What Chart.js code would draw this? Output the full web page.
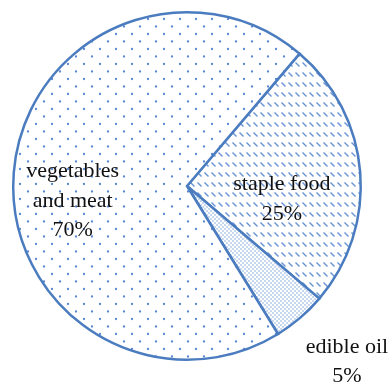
<!DOCTYPE html>
<html>
<head>
<meta charset="utf-8">
<script src="https://cdn.jsdelivr.net/npm/chart.js@4.4.0/dist/chart.umd.min.js"></script>
<style>
  html, body { margin: 0; padding: 0; background: #fff; }
  canvas { display: block; }
</style>
</head>
<body>
<canvas id="c" width="392" height="387"></canvas>
<script>
// data
const categories = ['staple food', 'edible oil', 'vegetables and meat'];
const labelLines = [['staple food', '25%'], ['edible oil', '5%'], ['vegetables', 'and meat', '70%']];
const shares = [25, 5, 70];
// label placement: angle (deg, canvas) and distance as fraction of radius
const labelAngle = [7.2, 47.5, 173.1];
const labelDist = [0.55, 1.362, 0.663];

const BLUE = '#4a7cbf';

function makePattern(w, h, draw) {
  const c = document.createElement('canvas');
  c.width = w; c.height = h;
  const g = c.getContext('2d');
  g.fillStyle = '#fff';
  g.fillRect(0, 0, w, h);
  draw(g);
  return g.createPattern(c, 'repeat');
}

const ctx = document.getElementById('c').getContext('2d');

const dots = makePattern(16, 15, g => {
  g.fillStyle = 'rgba(80,130,205,0.95)';
  g.beginPath(); g.arc(4, 4, 1.15, 0, Math.PI * 2); g.fill();
  g.beginPath(); g.arc(12, 11.5, 1.15, 0, Math.PI * 2); g.fill();
});
const hatch = makePattern(7, 10, g => {
  g.strokeStyle = 'rgba(80,130,205,0.85)';
  g.lineWidth = 1.4;
  g.beginPath(); g.moveTo(1.5, 2.5); g.lineTo(5.5, 6.5); g.stroke();
});
const fine = makePattern(4, 4, g => {
  g.fillStyle = 'rgba(80,130,205,0.7)';
  g.beginPath(); g.arc(1, 1, 0.8, 0, Math.PI * 2); g.fill();
  g.beginPath(); g.arc(3, 3, 0.8, 0, Math.PI * 2); g.fill();
});

const labelPlugin = {
  id: 'sliceLabels',
  afterDatasetsDraw(chart) {
    const meta = chart.getDatasetMeta(0);
    const c = chart.ctx;
    c.save();
    c.font = '22px "Liberation Serif", "Times New Roman", serif';
    c.fillStyle = '#111';
    c.textAlign = 'center';
    c.textBaseline = 'alphabetic';
    meta.data.forEach((arc, i) => {
      const a = labelAngle[i] * Math.PI / 180;
      const r = arc.outerRadius * labelDist[i];
      const x = arc.x + Math.cos(a) * r;
      const y = arc.y + Math.sin(a) * r;
      const lines = labelLines[i];
      const lh = 29.5;
      lines.forEach((t, k) => {
        c.fillText(t, x, y + 7 + (k - (lines.length - 1) / 2) * lh);
      });
    });
    c.restore();
  }
};

new Chart(ctx, {
  type: 'pie',
  data: {
    labels: categories,
    datasets: [{
      data: shares,
      backgroundColor: [hatch, fine, dots],
      borderColor: BLUE,
      borderWidth: 2.5,
      borderJoinStyle: 'miter'
    }]
  },
  options: {
    responsive: false,
    animation: false,
    rotation: 40.4,
    layout: { padding: { left: 12, right: 30, top: 11, bottom: 26 } },
    plugins: { legend: { display: false }, tooltip: { enabled: false } }
  },
  plugins: [labelPlugin]
});
</script>
</body>
</html>
